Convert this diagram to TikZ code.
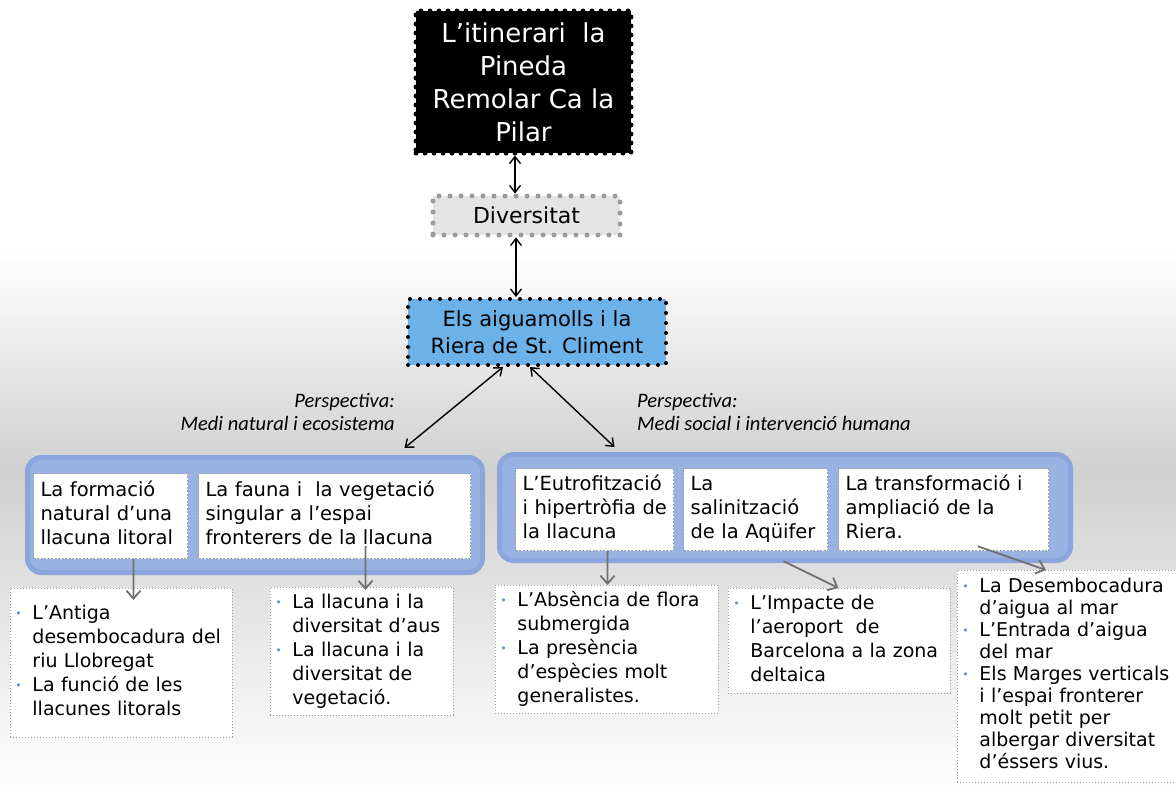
\documentclass[tikz,border=0pt]{standalone}
\usepackage{fontspec}
\setmainfont{DejaVu Sans}
\newfontfamily\persfont{Carlito}
\usetikzlibrary{arrows.meta}
\definecolor{main-blue}{RGB}{108,178,232}
\definecolor{group-blue}{RGB}{152,178,226}
\definecolor{group-edge}{RGB}{138,166,220}
\definecolor{theme-gray}{RGB}{228,228,228}
\definecolor{dot-gray}{RGB}{155,155,155}
\definecolor{box-edge}{RGB}{160,160,160}
\definecolor{bullet-blue}{RGB}{100,150,210}
\definecolor{bg-gray}{RGB}{208,208,208}
\definecolor{arrow-gray}{RGB}{112,112,112}

\newcommand{\bul}{\makebox[17pt][l]{\raisebox{2pt}{\textcolor{bullet-blue}{\fontsize{11}{11}\selectfont\textbullet}}}}
\newcommand{\lines}[1]{\begin{tabular}{@{}l@{}l@{}}#1\end{tabular}}

\tikzset{
  titlebox/.style={fill=black, draw=black, line width=5pt, dash pattern=on 0pt off 9pt, line cap=round,
    text=white, align=center, font=\fontsize{26}{33}\selectfont},
  themebox/.style={fill=theme-gray, draw=dot-gray, line width=5pt, dash pattern=on 0pt off 11pt, line cap=round,
    font=\fontsize{22}{26}\selectfont},
  mainbox/.style={fill=main-blue, draw=black, line width=4pt, dash pattern=on 0pt off 10pt, line cap=round,
    align=center, font=\fontsize{21}{27.5}\selectfont},
  groupbox/.style={fill=group-blue, draw=group-edge, line width=5pt, rounded corners=14pt, anchor=north west},
  topicbox/.style={fill=white, draw=box-edge, line width=1.2pt, dash pattern=on 2pt off 1.5pt, anchor=north west,
    inner xsep=7pt, align=left, font=\fontsize{19.5}{24}\selectfont},
  detailbox/.style={fill=white, draw=box-edge, line width=0.9pt, dash pattern=on 1pt off 2pt, anchor=north west,
    inner xsep=5pt, align=left, font=\fontsize{19}{24}\selectfont},
  perslabel/.style={inner sep=0pt, font=\persfont\itshape\fontsize{20.5}{23.5}\selectfont},
  link/.style={{Straight Barb[length=7pt,width=11pt]}-{Straight Barb[length=7pt,width=11pt]}, line width=1.4pt},
  sublink/.style={-{Straight Barb[length=8pt,width=14pt]}, line width=1.8pt, draw=arrow-gray}
}

\begin{document}
\begin{tikzpicture}[x=1pt,y=-1pt]
    \useasboundingbox (0,0) rectangle (1176,796);
    % background
    \fill[white] (0,0) rectangle (1176,796);
    \shade[top color=white, bottom color=bg-gray] (0,250) rectangle (1176,470);
    \shade[top color=bg-gray, bottom color=white] (0,470) rectangle (1176,796);

    % top of the map
    \node[titlebox, minimum width=215, minimum height=142] (title) at (523.5,82) {L'itinerari\ \ la\\Pineda\\Remolar Ca la\\Pilar};
    \node[themebox, minimum width=187, minimum height=39] (theme) at (526.5,215.5) {Diversitat};
    \node[mainbox, minimum width=258, minimum height=66] (main) at (537,332) {Els aiguamolls i la\\Riera de St. Climent};

    \node[perslabel, anchor=east, align=right] (natlabel) at (395,412) {Perspectiva:\\Medi natural i ecosistema};
    \node[perslabel, anchor=west, align=left] (soclabel) at (637,412) {Perspectiva:\\Medi social i intervenció humana};

    % the two perspectives
    \node[groupbox, minimum width=455, minimum height=115] (natural) at (25,455) {};
    \node[groupbox, minimum width=571, minimum height=106] (social) at (497,452) {};

    \node[topicbox, minimum width=154, minimum height=85, text width=140] (formacio) at (33,473) {\lines{La formació\\natural d'una\\llacuna litoral}};
    \node[topicbox, minimum width=272, minimum height=85, text width=258] (fauna) at (198,473) {\lines{La fauna i\ \ la vegetació\\singular a l'espai\\fronterers de la llacuna}};
    \node[topicbox, minimum width=158, minimum height=82, text width=144] (eutro) at (515,468) {\lines{L'Eutrofització\\i hipertròfia de\\la llacuna}};
    \node[topicbox, minimum width=144, minimum height=82, text width=130] (salin) at (683,468) {\lines{La\\salinització\\de la Aqüifer}};
    \node[topicbox, minimum width=210, minimum height=82, text width=196] (transf) at (838,468) {\lines{La transformació i\\ampliació de la\\Riera.}};

    % details
    \node[detailbox, minimum width=222, minimum height=149, text width=212] (antiga) at (10,588) {\lines{\bul & L'Antiga\\ & desembocadura del\\ & riu Llobregat\\ \bul & La funció de les\\ & llacunes litorals}};
    \node[detailbox, minimum width=183, minimum height=128, text width=173] (aus) at (270,587) {\lines{\bul & La llacuna i la\\ & diversitat d'aus\\ \bul & La llacuna i la\\ & diversitat de\\ & vegetació.}};
    \node[detailbox, minimum width=223, minimum height=128, text width=213] (flora) at (495,585) {\lines{\bul & L'Absència de flora\\ & submergida\\ \bul & La presència\\ & d'espècies molt\\ & generalistes.}};
    \node[detailbox, minimum width=222, minimum height=105, text width=212] (aeroport) at (728,588) {\lines{\bul & L'Impacte de\\ & l'aeroport\ \ de\\ & Barcelona a la zona\\ & deltaica}};
    \node[detailbox, minimum width=219, minimum height=212, text width=209, font=\fontsize{19}{22}\selectfont] (mar) at (957,570) {\lines{\bul & La Desembocadura\\ & d'aigua al mar\\ \bul & L'Entrada d'aigua\\ & del mar\\ \bul & Els Marges verticals\\ & i l'espai fronterer\\ & molt petit per\\ & albergar diversitat\\ & d'éssers vius.}};

    % connectors
    \draw[link] ([xshift=-8.5pt]title.south) -- ([xshift=-11.5pt]theme.north);
    \draw[link] ([xshift=-10.5pt]theme.south) -- ([xshift=-21pt]main.north);
    \draw[link] ([xshift=-34pt]main.south) -- ([xshift=149.5pt,yshift=7pt]natural.north);
    \draw[link] ([xshift=-7pt]main.south) -- ([xshift=-170.5pt,yshift=5pt]social.north);

    \draw[sublink] ([xshift=23pt]formacio.south) -- ([xshift=12pt,yshift=-12pt]antiga.north);
    \draw[sublink] ([xshift=31pt,yshift=13pt]fauna.south) -- ([xshift=3.5pt,yshift=-3pt]aus.north);
    \draw[sublink] ([xshift=13pt]eutro.south) -- ([xshift=0.5pt]flora.north);
    \draw[sublink] ([xshift=28pt,yshift=-10pt]salin.south) -- ([xshift=-1pt]aeroport.north);
    \draw[sublink] ([xshift=34pt,yshift=5pt]transf.south) -- ([xshift=-21pt]mar.north);
\end{tikzpicture}
\end{document}
